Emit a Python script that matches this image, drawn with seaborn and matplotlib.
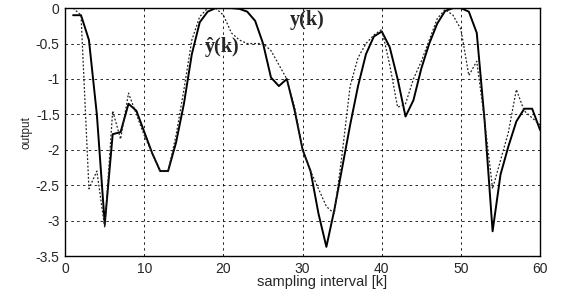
import matplotlib
matplotlib.use("Agg")
import matplotlib.pyplot as plt
import seaborn as sns
import pandas as pd

# sampling instants
k = list(range(1, 61))

# measured output y(k)
y = [-0.1, -0.1, -0.45, -1.5, -3.05, -1.78, -1.75, -1.35, -1.45, -1.75,
     -2.05, -2.3, -2.3, -1.9, -1.35, -0.65, -0.2, -0.05, 0.0, 0.0,
     0.0, -0.01, -0.05, -0.18, -0.5, -0.98, -1.1, -1.0, -1.45, -2.0,
     -2.3, -2.9, -3.37, -2.85, -2.25, -1.65, -1.1, -0.65, -0.4, -0.33,
     -0.55, -1.0, -1.53, -1.3, -0.85, -0.5, -0.22, -0.04, 0.0, 0.0,
     -0.05, -0.35, -1.6, -3.15, -2.35, -1.95, -1.6, -1.42, -1.42, -1.72]

# model output y_hat(k)
y_hat = [0.0, -0.1, -2.55, -2.3, -3.1, -1.45, -1.85, -1.2, -1.5, -1.8,
         -2.05, -2.3, -2.3, -1.8, -1.15, -0.45, -0.12, 0.0, 0.0, -0.1,
         -0.35, -0.45, -0.5, -0.5, -0.5, -0.6, -0.8, -1.0, -1.4, -2.0,
         -2.3, -2.55, -2.8, -2.9, -2.05, -1.1, -0.7, -0.5, -0.38, -0.3,
         -0.8, -1.4, -1.35, -1.0, -0.75, -0.45, -0.15, -0.02, -0.1, -0.3,
         -0.95, -0.75, -1.6, -2.55, -2.15, -1.75, -1.15, -1.45, -1.55, -1.65]

df = pd.DataFrame({"k": k, "y": y, "y_hat": y_hat})

sns.set_style("white")
plt.rcParams["font.family"] = ["Liberation Sans", "DejaVu Sans"]

fig = plt.figure(figsize=(5.62, 2.9), dpi=100)
ax = fig.add_axes([0.116, 0.117, 0.845, 0.855])

sns.lineplot(data=df, x="k", y="y", ax=ax, color="black", linewidth=1.4)
sns.lineplot(data=df, x="k", y="y_hat", ax=ax, color="#222222", linewidth=0.9,
             linestyle=(0, (1.5, 1.5)))

ax.set_xlim(0, 60)
ax.set_ylim(-3.5, 0)
ax.set_xticks(range(0, 61, 10))
ax.set_yticks([0, -0.5, -1, -1.5, -2, -2.5, -3, -3.5])
ax.set_yticklabels(["0", "-0.5", "-1", "-1.5", "-2", "-2.5", "-3", "-3.5"])
ax.grid(True, color="black", linestyle=(0, (3, 4)), linewidth=0.6)
ax.tick_params(direction="in", length=0, labelsize=10, pad=4)
for s in ax.spines.values():
    s.set_color("black")
    s.set_linewidth(1.0)

ax.set_xlabel("sampling interval [k]", fontsize=10.5)
ax.xaxis.set_label_coords(0.54, -0.075)
ax.set_ylabel("output", fontsize=8.5, labelpad=2)

ax.text(28.4, -0.02, "y(k)", fontsize=14.5, fontweight="bold",
        family=["Liberation Serif", "DejaVu Serif"], va="top", ha="left")
ax.text(17.7, -0.55, "ŷ(k)", fontsize=14.5, fontweight="bold",
        family=["Liberation Serif", "DejaVu Serif"], va="center", ha="left")

fig.savefig("out.png", dpi=100, facecolor="white")
